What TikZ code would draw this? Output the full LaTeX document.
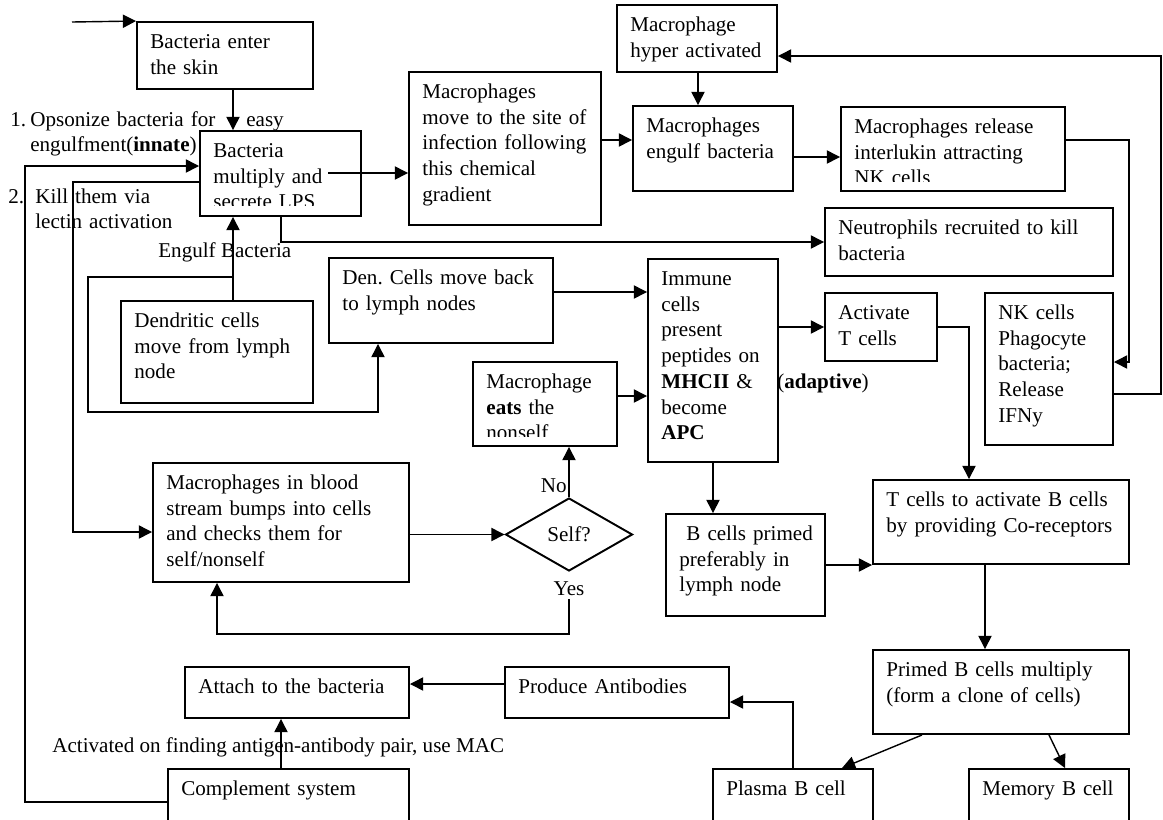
\documentclass[tikz,border=0pt]{standalone}
\usepackage{fontspec}
\setmainfont{Liberation Serif}
\frenchspacing
\usetikzlibrary{arrows.meta,shapes.geometric,calc,fit}

% A framed step: name, corner (x1,y1), corner (x2,y2), text
\newcommand\flowbox[6]{%
  \node[box, fit={(#2,#3) (#4,#5)}] (#1) {};
  \node[txt] (#1-t) at ($(#1.north west)+(14,27.5)$) {#6};
}
% Same, but text that overflows the inner margin is cut off at row #6
\newcommand\flowboxcut[7]{%
  \node[box, fit={(#2,#3) (#4,#5)}] (#1) {};
  \begin{scope}
    \clip (#2,#3) rectangle (#4,#6);
    \node[txt] (#1-t) at ($(#1.north west)+(14,27.5)$) {#7};
  \end{scope}
}

\begin{document}
\begin{tikzpicture}[x=0.02cm, y=-0.02cm,
  box/.style={draw, line width=1.1pt, inner sep=0pt},
  txt/.style={anchor=base west, inner sep=0pt, align=left, text width=10cm,
    font=\fontsize{12}{14.63}\selectfont},
  lbl/.style={inner sep=0pt, font=\fontsize{12}{14.63}\selectfont},
  arr/.style={line width=0.8pt, -{Triangle[length=7.5pt,width=7.5pt]}},
  decision/.style={draw, diamond, line width=1.1pt, inner sep=0pt,
    minimum width=2.54cm, minimum height=1.46cm,
    font=\fontsize{12}{14.63}\selectfont}]

\useasboundingbox (0,0) rectangle (1163,819);

% ---------- steps ----------
\flowbox{enter}{137}{22}{313}{89}{Bacteria enter\\the skin}
\flowboxcut{bmult}{200}{131}{361}{216}{205}{Bacteria\\multiply and\\secrete LPS}
\flowbox{mmove}{409}{72}{601}{225}{Macrophages\\move to the site of\\infection following\\this chemical\\gradient}
\flowbox{hyper}{617}{5}{777}{72}{Macrophage\\hyper activated}
\flowbox{engulf}{633}{106}{793}{191}{Macrophages\\engulf bacteria}
\flowboxcut{release}{841}{107}{1065}{191}{181}{Macrophages release\\interlukin attracting\\NK cells}
\flowbox{neutro}{825}{208}{1113}{276}{Neutrophils recruited to kill\\bacteria}
\flowbox{dend}{121}{301}{313}{403}{Dendritic cells\\move from lymph\\node}
\flowbox{denback}{329}{258}{553}{343}{Den. Cells move back\\to lymph nodes}
\flowbox{immune}{648}{259}{778}{462}{Immune\\cells\\present\\peptides on\\\textbf{MHCII} \&\\become\\\textbf{APC}}
\flowbox{actT}{825}{293}{937}{361}{Activate\\T cells}
\flowbox{nk}{985}{293}{1113}{445}{NK cells\\Phagocyte\\bacteria;\\Release\\IFNy}
\flowboxcut{eats}{473}{362}{617}{446}{436}{Macrophage\\\textbf{eats} the\\nonself}
\flowbox{blood}{153}{463}{409}{582}{Macrophages in blood\\stream bumps into cells\\and checks them for\\self/nonself}
\flowbox{bprimed}{666}{514}{825}{616}{\hspace*{4pt}B cells primed\\preferably in\\lymph node}
\flowbox{tcells}{873}{480}{1129}{564}{T cells to activate B cells\\by providing Co-receptors}
\flowbox{primed}{873}{650}{1129}{734}{Primed B cells multiply\\(form a clone of cells)}
\flowbox{attach}{185}{667}{409}{718}{Attach to the bacteria}
\flowbox{produce}{505}{667}{729}{718}{Produce Antibodies}
\flowbox{complement}{168}{769}{409}{840}{Complement system}
\flowbox{plasma}{713}{769}{873}{840}{Plasma B cell}
\flowbox{memory}{969}{769}{1129}{840}{Memory B cell}

\node[decision] (self) at (569,534.5) {Self?};

% ---------- free labels ----------
\node[txt] (opso) at (10,126) {\makebox[0.4cm][l]{1.}\makebox[4.32cm][l]{Opsonize bacteria for}easy\\\hspace*{0.4cm}engulfment(\textbf{innate})};
\node[txt] (kill) at (8,203) {\makebox[0.54cm][l]{2.}Kill them via\\\hspace*{0.54cm}lectin activation};
\node[lbl, anchor=base west] (engl) at (158,257) {Engulf Bacteria};
\node[lbl, anchor=base east] (no) at (567,492) {No};
\node[lbl, anchor=base, inner sep=2pt] (yes) at (569,595) {Yes};
\node[lbl, anchor=base west] (adapt) at (777,388) {(\textbf{adaptive})};
\node[lbl, anchor=base west] (activ) at (52,752) {Activated on finding antigen-antibody pair, use MAC};

% ---------- helper columns and rows for the connectors ----------
\coordinate (src) at (72,22);
\coordinate (bmout) at (328,173);
\foreach \c in {25,73,88,217,233,281,378,698,713,793,842,922,969,985,1049,1065,1129,1161}
  \coordinate (kx\c) at (\c,0);
\foreach \r in {56,140,157,166,182,242,277,292,327,362,394,396,412,532,565,634,684,702,802}
  \coordinate (ky\r) at (0,\r);

% ---------- connectors ----------
\draw[arr] (src) -- (enter.north west);
\draw[arr] (enter.south -| kx233) -- (bmult.north -| kx233);
\draw[arr] (bmout) -- (bmout -| mmove.west);
\draw[arr] (mmove.east |- ky140) -- (engulf.west |- ky140);
\draw[arr] (hyper.south -| kx698) -- (engulf.north -| kx698);
\draw[arr] (engulf.east |- ky157) -- (release.west |- ky157);
\draw[arr] (release.east |- ky140) -| (kx1129 |- ky362) -- (nk.east |- ky362);
\draw[arr] (nk.east |- ky394) -| (kx1161 |- ky56) -- (hyper.east |- ky56);
\draw[arr] (bmult.south -| kx281) |- (neutro.west |- ky242);
\draw[arr] (dend.north -| kx233) -- (bmult.south -| kx233);
\draw[arr] (kx233 |- ky277) -| (kx88 |- ky412) -| (denback.south -| kx378);
\draw[arr] (denback.east |- ky292) -- (immune.west |- ky292);
\draw[arr] (eats.east |- ky396) -- (immune.west |- ky396);
\draw[arr] (immune.east |- ky327) -- (actT.west |- ky327);
\draw[arr] (actT.east |- ky327) -| (tcells.north -| kx969);
\draw[arr] (bmult.west |- ky182) -| (kx73 |- ky532) -- (blood.west |- ky532);
\draw[arr] (complement.west |- ky802) -| (kx25 |- ky166) -- (bmult.west |- ky166);
\draw[arr] (blood.east |- self.west) -- (self.west);
\draw[arr] (self.north) -- (eats.south -| self.north);
\draw[arr] (yes.south) |- (kx217 |- ky634) -- (blood.south -| kx217);
\draw[arr] (immune.south -| kx713) -- (bprimed.north -| kx713);
\draw[arr] (bprimed.east |- ky565) -- (tcells.west |- ky565);
\draw[arr] (tcells.south -| kx985) -- (primed.north -| kx985);
\draw[arr] (primed.south -| kx922) -- (plasma.north -| kx842);
\draw[arr] (primed.south -| kx1049) -- (memory.north -| kx1065);
\draw[arr] (plasma.north -| kx793) |- (produce.east |- ky702);
\draw[arr] (produce.west |- ky684) -- (attach.east |- ky684);
\draw[arr] (complement.north -| kx281) -- (attach.south -| kx281);
\end{tikzpicture}
\end{document}
